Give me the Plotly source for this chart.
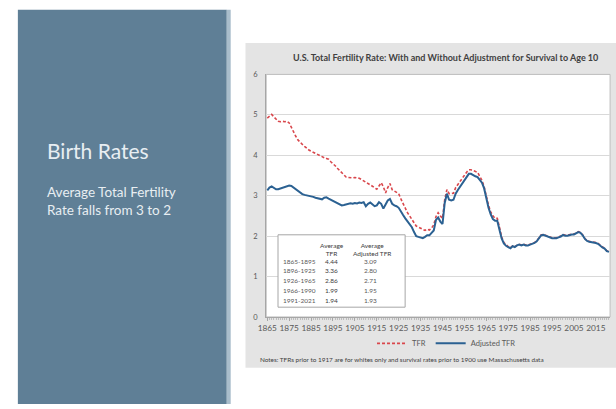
import plotly.graph_objects as go

# Years covered by the series
years = list(range(1865, 2022))

# Total fertility rate (births per woman)
tfr = [
    4.92, 4.97, 5.01, 4.95, 4.88, 4.84, 4.83, 4.84, 4.83, 4.84,  # 1865-1874
    4.80, 4.68, 4.56, 4.47, 4.38, 4.31, 4.27, 4.22, 4.17, 4.13,  # 1875-1884
    4.10, 4.07, 4.04, 4.01, 3.98, 3.95, 3.94, 3.92, 3.90, 3.84,  # 1885-1894
    3.80, 3.74, 3.68, 3.62, 3.56, 3.50, 3.46, 3.45, 3.44, 3.44,  # 1895-1904
    3.45, 3.44, 3.43, 3.40, 3.36, 3.33, 3.30, 3.27, 3.23, 3.18,  # 1905-1914
    3.16, 3.24, 3.32, 3.22, 3.07, 3.20, 3.30, 3.15, 3.12, 3.10,  # 1915-1924
    3.05, 2.92, 2.80, 2.68, 2.58, 2.50, 2.40, 2.33, 2.25, 2.22,  # 1925-1934
    2.19, 2.15, 2.14, 2.17, 2.15, 2.20, 2.28, 2.48, 2.58, 2.50,  # 1935-1944
    2.44, 2.90, 3.15, 3.05, 3.06, 3.06, 3.20, 3.28, 3.35, 3.45,  # 1945-1954
    3.50, 3.58, 3.64, 3.64, 3.62, 3.60, 3.58, 3.48, 3.38, 3.22,  # 1955-1964
    2.96, 2.76, 2.60, 2.50, 2.44, 2.44, 2.22, 1.98, 1.84, 1.78,  # 1965-1974
    1.74, 1.71, 1.76, 1.74, 1.78, 1.80, 1.78, 1.80, 1.78, 1.78,  # 1975-1984
    1.80, 1.82, 1.84, 1.88, 1.95, 2.03, 2.04, 2.02, 1.99, 1.97,  # 1985-1994
    1.96, 1.96, 1.96, 1.98, 2.00, 2.04, 2.02, 2.02, 2.04, 2.05,  # 1995-2004
    2.05, 2.08, 2.11, 2.09, 2.03, 1.94, 1.89, 1.87, 1.86, 1.86,  # 2005-2014
    1.84, 1.82, 1.77, 1.73, 1.70, 1.64, 1.62,                    # 2015-2021
]

# Total fertility rate adjusted for survival to age 10
adjusted_tfr = [
    3.13, 3.20, 3.23, 3.20, 3.16, 3.16, 3.18, 3.20, 3.22, 3.23,  # 1865-1874
    3.25, 3.24, 3.20, 3.14, 3.10, 3.07, 3.04, 3.02, 3.01, 3.00,  # 1875-1884
    2.99, 2.97, 2.95, 2.94, 2.93, 2.91, 2.95, 2.96, 2.93, 2.90,  # 1885-1894
    2.87, 2.84, 2.80, 2.77, 2.76, 2.77, 2.78, 2.79, 2.81, 2.80,  # 1895-1904
    2.82, 2.81, 2.83, 2.82, 2.84, 2.74, 2.80, 2.83, 2.78, 2.74,  # 1905-1914
    2.76, 2.84, 2.80, 2.68, 2.78, 2.88, 2.92, 2.80, 2.76, 2.74,  # 1915-1924
    2.70, 2.60, 2.52, 2.44, 2.36, 2.30, 2.22, 2.10, 2.00, 1.98,  # 1925-1934
    1.97, 1.95, 1.98, 2.02, 2.02, 2.08, 2.14, 2.40, 2.46, 2.36,  # 1935-1944
    2.30, 2.82, 3.05, 2.90, 2.88, 2.90, 3.05, 3.14, 3.22, 3.32,  # 1945-1954
    3.40, 3.48, 3.54, 3.54, 3.50, 3.48, 3.46, 3.40, 3.32, 3.18,  # 1955-1964
    2.92, 2.70, 2.54, 2.42, 2.38, 2.38, 2.16, 1.94, 1.82, 1.76,  # 1965-1974
    1.73, 1.70, 1.75, 1.73, 1.77, 1.79, 1.77, 1.79, 1.77, 1.77,  # 1975-1984
    1.79, 1.81, 1.83, 1.87, 1.94, 2.02, 2.03, 2.01, 1.98, 1.96,  # 1985-1994
    1.95, 1.95, 1.95, 1.97, 1.99, 2.03, 2.01, 2.01, 2.03, 2.04,  # 1995-2004
    2.04, 2.07, 2.10, 2.08, 2.02, 1.93, 1.88, 1.86, 1.85, 1.85,  # 2005-2014
    1.83, 1.81, 1.76, 1.72, 1.69, 1.63, 1.61,                    # 2015-2021
]

x_ticks = list(range(1865, 2016, 10))

# Period averages shown in the inset table
periods = ["1865-1895", "1896-1925", "1926-1965", "1966-1990", "1991-2021"]
avg_tfr = ["4.44", "3.36", "2.86", "1.99", "1.94"]
avg_adjusted = ["3.09", "2.80", "2.71", "1.95", "1.93"]

W, H = 616, 409
FONT = "Lato"


def px(x):
    return x / W


def py(y):
    return 1 - y / H


fig = go.Figure()
fig.add_trace(go.Scatter(
    x=years, y=tfr, mode="lines", name="TFR",
    line=dict(color="#D9474C", width=1.6, dash="3px,2px"),
))
fig.add_trace(go.Scatter(
    x=years, y=adjusted_tfr, mode="lines", name="Adjusted TFR",
    line=dict(color="#2B6192", width=2),
))

shapes = [
    # slide side panel
    dict(type="rect", xref="paper", yref="paper", layer="below",
         x0=px(9), x1=px(221), y0=0, y1=py(6),
         fillcolor="#5F7F96", line=dict(width=0)),
    dict(type="rect", xref="paper", yref="paper", layer="below",
         x0=px(221), x1=px(225), y0=0, y1=py(6),
         fillcolor="#A9BDCB", line=dict(width=0)),
    # chart background
    dict(type="rect", xref="paper", yref="paper", layer="below",
         x0=px(240), x1=px(616), y0=py(372), y1=py(40),
         fillcolor="#E4E4E4", line=dict(width=0)),
    # plot area
    dict(type="rect", xref="paper", yref="paper", layer="below",
         x0=px(261), x1=px(610), y0=py(320), y1=py(72),
         fillcolor="white", line=dict(color="#BDBDBD", width=1)),
    # inset table frame
    dict(type="rect", xref="paper", yref="paper", layer="above",
         x0=px(273), x1=px(402), y0=py(310), y1=py(236),
         fillcolor="white", line=dict(color="#A6A6A6", width=1)),
]

annotations = [
    dict(text="Birth Rates", x=px(37), y=py(150), xref="paper", yref="paper",
         xanchor="left", yanchor="middle", showarrow=False,
         font=dict(family=FONT, size=21, color="#E8EEF2")),
    dict(text="Average Total Fertility<br>Rate falls from 3 to 2",
         x=px(37), y=py(201), xref="paper", yref="paper", align="left",
         xanchor="left", yanchor="middle", showarrow=False,
         font=dict(family=FONT, size=13.5, color="#E8EEF2")),
    dict(text="<b>U.S. Total Fertility Rate: With and Without Adjustment for Survival to Age 10</b>",
         x=px(443), y=py(55), xref="paper", yref="paper",
         xanchor="center", yanchor="middle", showarrow=False,
         font=dict(family=FONT, size=9, color="#404040")),
    dict(text="Notes: TFRs prior to 1917 are for whites only and survival rates prior to 1900 use Massachusetts data",
         x=px(253), y=py(363), xref="paper", yref="paper",
         xanchor="left", yanchor="middle", showarrow=False,
         font=dict(family=FONT, size=6.4, color="#404040")),
    dict(text="Average<br>TFR", x=px(328), y=py(251), xref="paper", yref="paper",
         xanchor="center", yanchor="middle", showarrow=False,
         font=dict(family=FONT, size=6.5, color="#404040")),
    dict(text="Average<br>Adjusted TFR", x=px(369), y=py(251), xref="paper", yref="paper",
         xanchor="center", yanchor="middle", showarrow=False,
         font=dict(family=FONT, size=6.5, color="#404040")),
]

row_y = [263, 273, 283, 293, 303]
for label, a, b, ry in zip(periods, avg_tfr, avg_adjusted, row_y):
    annotations.append(dict(text=label, x=px(276), y=py(ry), xref="paper", yref="paper",
                            xanchor="left", yanchor="middle", showarrow=False,
                            font=dict(family=FONT, size=6.5, color="#595959")))
    annotations.append(dict(text=a, x=px(327), y=py(ry), xref="paper", yref="paper",
                            xanchor="center", yanchor="middle", showarrow=False,
                            font=dict(family=FONT, size=6.5, color="#404040")))
    annotations.append(dict(text=b, x=px(367), y=py(ry), xref="paper", yref="paper",
                            xanchor="center", yanchor="middle", showarrow=False,
                            font=dict(family=FONT, size=6.5, color="#595959")))

fig.update_layout(
    width=W, height=H,
    margin=dict(l=0, r=0, t=0, b=0),
    paper_bgcolor="white",
    plot_bgcolor="rgba(0,0,0,0)",
    font=dict(family=FONT, color="#595959"),
    shapes=shapes,
    annotations=annotations,
    showlegend=True,
    legend=dict(
        orientation="h", x=px(444), y=py(347), xanchor="center", yanchor="middle",
        bgcolor="rgba(0,0,0,0)", font=dict(family=FONT, size=7.5, color="#595959"),
        itemwidth=30, tracegroupgap=0,
    ),
    xaxis=dict(
        domain=[px(261), px(610)],
        range=[1864.5, 2021.5],
        tickmode="array", tickvals=x_ticks,
        tickfont=dict(family=FONT, size=8.3, color="#595959"),
        showgrid=False, zeroline=False,
        showline=True, linecolor="#A6A6A6", linewidth=1,
        ticks="outside", ticklen=3, tickcolor="#A6A6A6",
        minor=dict(dtick=1, ticks="outside", ticklen=2, tickcolor="#BDBDBD"),
        fixedrange=True,
    ),
    yaxis=dict(
        domain=[py(320), py(72)],
        range=[0, 6], dtick=1,
        tickfont=dict(family=FONT, size=7.5, color="#595959"),
        showgrid=True, gridcolor="#D9D9D9", gridwidth=1,
        zeroline=False, showline=True, linecolor="#A6A6A6",
        ticks="", ticklabelstandoff=6,
        fixedrange=True,
    ),
)

fig.write_html("out.html")
